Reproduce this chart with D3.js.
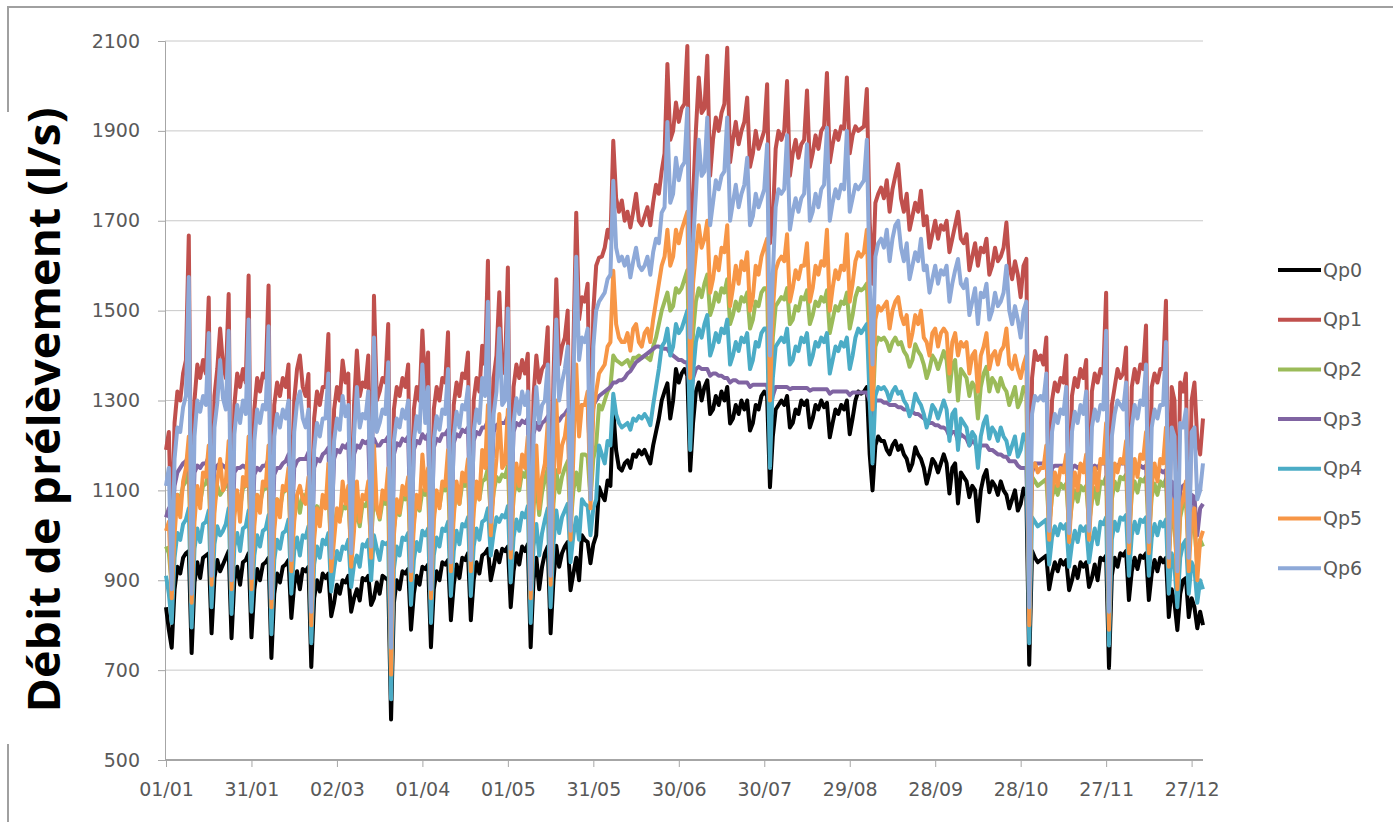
<!DOCTYPE html>
<html><head><meta charset="utf-8">
<script src="https://cdnjs.cloudflare.com/ajax/libs/d3/7.8.5/d3.min.js"></script>
<style>body{margin:0;background:#fff;}svg{display:block;}</style>
</head><body>
<svg id="chart" width="1393" height="822"></svg>
<script>
const tickLabels = ["01/01","31/01","02/03","01/04","01/05","31/05","30/06","30/07","29/08","28/09","28/10","27/11","27/12"];
const yTicks = [500,700,900,1100,1300,1500,1700,1900,2100];
const seriesNames = ["Qp0","Qp1","Qp2","Qp3","Qp4","Qp5","Qp6"];

const qp0 = [840,790,750,880,930,915,950,
960,965,738,895,940,905,950,
955,960,782,905,945,920,935,
950,965,771,900,930,890,940,
945,960,773,880,925,900,935,
940,950,727,870,915,895,930,
935,945,816,890,920,880,925,
920,930,707,860,900,875,915,
905,915,820,850,890,870,900,
895,910,830,860,880,855,905,
900,910,845,860,895,870,910,
905,900,590,850,900,880,920,
915,925,790,870,910,890,930,
925,935,751,880,920,900,940,
935,945,811,890,935,905,950,
945,960,811,900,940,915,955,
960,970,900,930,965,940,970,
965,975,840,920,960,935,975,
965,980,751,900,950,880,930,
960,975,782,900,977,930,960,
975,985,878,915,950,900,1000,
990,985,938,980,1000,1107,1090,
1078,1122,1110,1278,1189,1150,1144,
1160,1167,1150,1180,1175,1189,1180,
1190,1175,1160,1200,1230,1260,1300,
1320,1338,1260,1300,1370,1340,1360,
1370,1355,1144,1250,1320,1340,1300,
1330,1345,1270,1280,1310,1290,1320,
1300,1330,1249,1260,1290,1270,1300,
1280,1300,1233,1250,1290,1280,1310,
1320,1310,1107,1220,1280,1290,1300,
1290,1310,1240,1250,1280,1270,1300,
1290,1300,1240,1260,1290,1280,1300,
1285,1295,1218,1250,1280,1270,1290,
1280,1300,1225,1260,1300,1320,1315,
1320,1330,1180,1100,1200,1220,1210,
1210,1190,1180,1200,1210,1190,1200,
1180,1170,1144,1160,1196,1180,1170,
1150,1115,1140,1170,1160,1140,1160,
1180,1160,1093,1150,1160,1071,1140,
1130,1120,1085,1110,1100,1031,1100,
1130,1145,1096,1120,1110,1090,1120,
1100,1090,1060,1080,1100,1055,1070,
1104,1090,712,965,950,940,945,
950,955,880,915,940,920,945,
935,945,878,900,930,905,940,
930,940,885,905,935,900,950,
945,955,705,910,950,930,960,
955,965,856,920,950,925,955,
950,960,856,915,945,920,950,
940,950,818,880,850,789,870,
900,905,818,860,840,793,830,
800];

const qp1 = [1190,1230,980,1250,1320,1300,1360,
1390,1667,900,1300,1380,1350,1390,
1360,1529,920,1310,1370,1460,1380,
1350,1537,910,1290,1360,1330,1370,
1340,1578,920,1280,1350,1320,1360,
1350,1556,880,1290,1340,1310,1350,
1330,1380,950,1300,1370,1400,1330,
1310,1359,850,1260,1320,1290,1330,
1330,1448,950,1280,1330,1300,1389,
1340,1360,960,1290,1411,1310,1340,
1330,1400,980,1533,1300,1320,1350,
1340,1470,800,1280,1330,1310,1350,
1330,1380,950,1280,1330,1300,1456,
1320,1407,900,1280,1330,1300,1350,
1340,1452,950,1290,1340,1310,1360,
1350,1407,940,1300,1350,1320,1422,
1380,1611,1020,1350,1400,1541,1360,
1370,1596,980,1330,1380,1350,1390,
1360,1404,900,1310,1400,1340,1370,
1380,1463,920,1350,1570,1380,1420,
1440,1500,1000,1420,1718,1480,1530,
1520,1560,1150,1500,1600,1618,1620,
1640,1680,1660,1878,1750,1720,1745,
1700,1720,1685,1720,1760,1700,1690,
1710,1730,1690,1740,1780,1760,1811,
1850,2049,1880,1900,1963,1920,1950,
1960,2089,1600,1750,1900,2019,1940,
1950,2067,1800,1880,1930,1900,1940,
1960,2085,1830,1880,1920,1870,1900,
1920,1974,1820,1850,1900,1860,1880,
1900,2004,1650,1700,1860,1900,1880,
1900,2011,1800,1850,1880,1840,1870,
1880,1990,1820,1850,1890,1860,1900,
1910,2029,1830,1870,1900,1880,1910,
1905,2019,1850,1890,1910,1900,1905,
1910,1993,1700,1560,1740,1760,1774,
1750,1790,1720,1770,1800,1826,1750,
1720,1760,1680,1710,1740,1720,1767,
1690,1710,1640,1670,1700,1660,1690,
1680,1700,1630,1660,1690,1720,1660,
1650,1670,1590,1620,1650,1600,1640,
1630,1660,1580,1600,1640,1610,1620,
1640,1696,1600,1570,1610,1580,1530,
1600,1615,900,1350,1410,1390,1400,
1380,1440,1000,1300,1340,1320,1350,
1340,1400,990,1310,1350,1330,1370,
1350,1390,1000,1320,1360,1340,1370,
1360,1540,900,1290,1330,1370,1350,
1360,1418,960,1330,1370,1340,1380,
1370,1467,950,1330,1360,1340,1370,
1370,1522,950,1330,1300,1000,1340,
1320,1360,950,1300,1340,1210,1180,
1260];

const qp2 = [975,960,890,1040,1090,1080,1110,
1120,1150,880,1060,1105,1075,1110,
1115,1140,920,1070,1110,1090,1100,
1110,1145,905,1065,1095,1060,1105,
1110,1145,910,1045,1090,1070,1100,
1105,1135,865,1035,1080,1060,1095,
1100,1125,950,1055,1085,1050,1090,
1085,1110,840,1025,1065,1040,1080,
1070,1095,955,1015,1055,1035,1065,
1060,1080,965,1025,1050,1020,1070,
1065,1080,985,1090,1060,1035,1075,
1070,1075,720,1015,1065,1045,1085,
1080,1095,930,1035,1075,1055,1100,
1090,1105,890,1045,1085,1065,1105,
1100,1120,950,1055,1100,1070,1115,
1110,1130,950,1065,1105,1080,1120,
1125,1150,1040,1095,1130,1120,1135,
1130,1155,980,1085,1125,1100,1140,
1130,1155,890,1065,1115,1045,1095,
1125,1150,920,1070,1145,1095,1130,
1150,1165,1020,1100,1140,1100,1180,
1180,1175,1080,1170,1200,1290,1280,
1300,1320,1330,1400,1390,1385,1380,
1385,1390,1375,1395,1395,1400,1395,
1400,1395,1390,1420,1440,1470,1500,
1520,1540,1500,1510,1550,1540,1550,
1570,1590,1280,1450,1520,1550,1530,
1560,1580,1490,1510,1540,1520,1550,
1540,1570,1470,1490,1520,1500,1530,
1520,1540,1460,1480,1520,1510,1540,
1550,1550,1240,1440,1510,1520,1530,
1525,1550,1470,1480,1510,1500,1530,
1525,1545,1470,1490,1520,1510,1530,
1520,1545,1450,1480,1510,1500,1520,
1515,1540,1460,1490,1530,1550,1545,
1550,1560,1400,1270,1420,1440,1435,
1440,1430,1410,1430,1440,1425,1430,
1410,1400,1375,1390,1425,1410,1400,
1380,1350,1370,1400,1390,1370,1390,
1410,1390,1320,1380,1390,1300,1370,
1360,1350,1310,1340,1330,1260,1330,
1360,1375,1320,1350,1340,1320,1350,
1330,1320,1290,1310,1330,1285,1300,
1330,1320,850,1130,1120,1110,1115,
1120,1125,1020,1085,1110,1090,1115,
1105,1115,1015,1070,1100,1075,1110,
1100,1110,1025,1075,1105,1070,1120,
1115,1130,840,1080,1120,1100,1130,
1125,1135,995,1090,1120,1095,1125,
1120,1130,995,1085,1115,1090,1120,
1110,1125,955,1050,1020,920,1040,
1070,1080,955,1030,1015,935,990,
975];

const qp3 = [1040,1060,1000,1110,1140,1150,1160,
1165,1180,950,1140,1155,1150,1160,
1160,1175,960,1145,1155,1160,1155,
1150,1170,955,1140,1150,1150,1155,
1150,1170,960,1135,1150,1145,1155,
1155,1170,930,1135,1150,1150,1160,
1165,1180,990,1150,1165,1170,1170,
1170,1185,900,1150,1170,1165,1180,
1185,1195,1000,1170,1190,1185,1200,
1195,1205,1010,1180,1200,1195,1210,
1205,1210,1020,1215,1200,1200,1210,
1210,1220,780,1180,1205,1200,1215,
1210,1220,980,1190,1210,1205,1225,
1215,1225,950,1195,1215,1210,1225,
1225,1235,1000,1205,1225,1220,1235,
1230,1240,1000,1210,1230,1225,1240,
1240,1255,1080,1230,1245,1250,1250,
1250,1265,1030,1230,1250,1245,1255,
1250,1260,950,1225,1250,1235,1250,
1255,1265,970,1240,1265,1255,1265,
1270,1280,1060,1260,1280,1275,1290,
1290,1295,1150,1290,1300,1310,1315,
1320,1325,1330,1340,1340,1345,1345,
1350,1360,1365,1375,1385,1390,1395,
1400,1405,1410,1415,1420,1420,1418,
1415,1415,1405,1400,1395,1390,1390,
1385,1385,1300,1350,1370,1375,1370,
1370,1370,1355,1360,1360,1355,1355,
1350,1350,1340,1345,1345,1340,1340,
1340,1340,1330,1335,1335,1335,1335,
1335,1335,1280,1310,1330,1330,1330,
1330,1330,1325,1328,1328,1328,1328,
1328,1328,1322,1325,1325,1325,1325,
1325,1325,1315,1320,1320,1320,1320,
1320,1320,1312,1318,1318,1318,1318,
1318,1318,1300,1260,1300,1300,1300,
1295,1295,1290,1290,1290,1285,1285,
1280,1280,1275,1275,1270,1270,1265,
1260,1255,1250,1250,1245,1245,1240,
1240,1235,1220,1230,1230,1210,1225,
1220,1215,1200,1210,1205,1185,1200,
1200,1200,1190,1190,1185,1180,1180,
1175,1175,1165,1165,1165,1155,1150,
1150,1150,900,1140,1160,1160,1160,
1160,1165,1060,1150,1155,1155,1155,
1155,1160,1050,1150,1155,1150,1155,
1155,1160,1060,1150,1155,1150,1160,
1160,1170,890,1150,1155,1155,1160,
1160,1165,1030,1150,1155,1150,1155,
1150,1155,1030,1140,1145,1140,1145,
1140,1145,1000,1120,1110,980,1100,
1110,1115,1000,1090,1085,1000,1060,
1070];

const qp4 = [910,870,805,950,1005,990,1025,
1035,1060,795,970,1015,985,1025,
1030,1055,840,980,1020,1000,1010,
1025,1060,825,975,1005,965,1015,
1020,1055,830,955,1000,975,1010,
1015,1045,780,945,990,970,1005,
1010,1035,870,965,995,955,1000,
995,1020,760,935,975,950,990,
980,1005,875,925,965,945,975,
970,990,885,935,955,930,980,
975,990,900,1000,970,945,985,
980,985,635,925,975,955,995,
990,1005,845,945,985,965,1010,
1000,1015,805,955,995,975,1015,
1010,1030,865,965,1010,980,1025,
1020,1040,865,975,1015,990,1030,
1035,1060,955,1005,1040,1030,1045,
1040,1065,895,995,1035,1010,1050,
1040,1065,805,975,1025,955,1005,
1035,1060,840,980,1055,1005,1040,
1055,1070,940,1000,1040,990,1080,
1070,1065,1000,1060,1080,1200,1180,
1160,1210,1200,1315,1270,1250,1240,
1245,1250,1235,1260,1255,1265,1260,
1270,1260,1245,1290,1330,1370,1420,
1430,1460,1400,1420,1470,1450,1460,
1480,1500,1190,1360,1430,1460,1440,
1470,1490,1400,1420,1450,1430,1460,
1450,1480,1380,1400,1430,1410,1440,
1430,1450,1370,1390,1430,1420,1450,
1460,1460,1150,1350,1420,1430,1440,
1430,1460,1380,1390,1420,1410,1440,
1430,1450,1380,1400,1430,1420,1440,
1430,1450,1360,1390,1420,1410,1430,
1420,1440,1370,1400,1440,1460,1450,
1460,1470,1300,1160,1310,1330,1325,
1330,1320,1300,1320,1330,1315,1320,
1300,1290,1265,1280,1315,1300,1290,
1270,1240,1260,1290,1280,1260,1280,
1300,1280,1210,1270,1280,1190,1260,
1250,1240,1200,1230,1220,1150,1220,
1250,1265,1215,1240,1230,1210,1240,
1220,1210,1180,1200,1220,1175,1190,
1225,1210,760,1040,1030,1020,1025,
1030,1035,935,995,1020,1000,1025,
1015,1025,930,980,1010,985,1020,
1010,1020,940,985,1015,980,1030,
1025,1040,755,990,1030,1010,1040,
1035,1045,910,1000,1030,1005,1035,
1030,1040,910,995,1025,1000,1030,
1020,1035,870,960,930,840,950,
980,990,870,940,925,850,900,
880];

const qp5 = [1010,1030,860,1000,1090,1040,1120,
1150,1220,850,1030,1110,1060,1140,
1130,1200,890,1050,1120,1170,1100,
1120,1210,880,1040,1100,1030,1130,
1110,1220,880,1020,1090,1050,1120,
1110,1200,840,1010,1080,1040,1110,
1100,1150,920,1030,1090,1110,1080,
1070,1130,800,990,1060,1020,1090,
1060,1160,920,990,1060,1030,1120,
1070,1110,930,1010,1120,1030,1090,
1080,1120,950,1200,1060,1040,1100,
1080,1150,690,1000,1080,1050,1110,
1090,1130,900,1020,1090,1060,1180,
1100,1150,860,1030,1100,1060,1120,
1110,1190,920,1040,1120,1070,1140,
1120,1170,920,1050,1120,1080,1190,
1150,1290,1000,1100,1170,1270,1150,
1160,1280,950,1090,1160,1110,1180,
1150,1220,860,1060,1200,1060,1130,
1160,1250,890,1100,1300,1140,1200,
1220,1270,990,1180,1380,1220,1290,
1290,1320,1060,1280,1320,1360,1370,
1380,1420,1430,1589,1470,1440,1430,
1430,1450,1411,1460,1470,1430,1420,
1450,1460,1430,1480,1520,1560,1600,
1620,1680,1600,1620,1680,1650,1680,
1700,1720,1350,1560,1630,1690,1640,
1660,1700,1540,1570,1620,1590,1640,
1630,1690,1510,1550,1600,1560,1610,
1590,1630,1500,1530,1600,1580,1620,
1640,1660,1300,1500,1590,1610,1620,
1610,1670,1520,1550,1590,1570,1600,
1600,1650,1520,1550,1600,1580,1610,
1600,1680,1500,1550,1590,1570,1600,
1590,1670,1520,1560,1610,1630,1620,
1630,1680,1450,1280,1480,1510,1500,
1510,1520,1460,1500,1520,1530,1490,
1470,1490,1420,1450,1490,1470,1500,
1440,1430,1400,1450,1460,1420,1450,
1460,1450,1360,1430,1450,1400,1430,
1420,1430,1360,1400,1410,1320,1400,
1420,1450,1370,1400,1410,1380,1410,
1420,1460,1380,1370,1400,1370,1350,
1380,1400,800,1150,1160,1140,1150,
1150,1200,990,1100,1140,1110,1150,
1140,1180,985,1090,1140,1100,1160,
1140,1180,990,1100,1150,1100,1170,
1160,1250,790,1100,1160,1140,1170,
1160,1210,960,1110,1170,1130,1180,
1170,1230,960,1110,1160,1120,1170,
1160,1240,930,1080,1050,880,1060,
1080,1120,920,1040,1060,900,990,
1010];

const qp6 = [1110,1150,880,1170,1240,1230,1285,
1310,1575,870,1220,1300,1275,1310,
1290,1450,910,1240,1295,1390,1305,
1280,1455,900,1225,1290,1250,1300,
1270,1480,905,1210,1280,1250,1290,
1280,1465,860,1220,1270,1240,1280,
1260,1300,945,1230,1295,1320,1260,
1240,1280,830,1190,1250,1220,1260,
1260,1360,950,1210,1260,1235,1310,
1265,1290,960,1220,1330,1240,1270,
1260,1320,975,1440,1230,1250,1280,
1270,1385,750,1210,1260,1240,1280,
1260,1300,920,1210,1265,1230,1380,
1250,1330,880,1210,1265,1235,1280,
1270,1370,940,1220,1275,1240,1290,
1280,1330,945,1230,1280,1250,1350,
1310,1520,1030,1270,1320,1460,1290,
1300,1505,970,1250,1305,1270,1320,
1290,1320,880,1230,1330,1250,1290,
1300,1380,910,1270,1480,1300,1340,
1370,1420,1010,1340,1620,1390,1440,
1430,1460,1080,1420,1500,1520,1530,
1540,1570,1580,1789,1640,1610,1620,
1600,1620,1574,1610,1640,1600,1590,
1600,1620,1580,1630,1660,1650,1718,
1730,1920,1740,1760,1840,1790,1820,
1830,1950,1440,1650,1760,1880,1800,
1810,1930,1690,1740,1790,1770,1800,
1810,1930,1700,1740,1780,1730,1760,
1780,1840,1690,1710,1760,1730,1750,
1770,1870,1400,1580,1730,1770,1760,
1770,1890,1680,1720,1750,1720,1750,
1760,1870,1700,1720,1760,1730,1770,
1780,1907,1700,1740,1770,1750,1780,
1770,1900,1720,1750,1780,1770,1780,
1790,1880,1560,1380,1620,1650,1660,
1640,1680,1610,1660,1690,1700,1640,
1610,1650,1570,1600,1630,1610,1660,
1590,1600,1540,1570,1600,1560,1590,
1580,1600,1520,1560,1590,1615,1560,
1550,1570,1490,1520,1550,1470,1540,
1530,1560,1480,1500,1540,1510,1520,
1540,1600,1500,1470,1510,1480,1440,
1500,1520,840,1270,1310,1300,1310,
1300,1360,1010,1230,1270,1250,1280,
1270,1330,1005,1230,1275,1250,1290,
1270,1320,1010,1240,1280,1255,1290,
1280,1455,830,1220,1270,1300,1290,
1280,1340,985,1240,1290,1260,1300,
1290,1380,985,1240,1280,1260,1290,
1290,1430,950,1240,1220,920,1250,
1240,1280,950,1230,1240,1080,1100,
1160];

const seriesValues = [qp0, qp1, qp2, qp3, qp4, qp5, qp6];
const seriesColors = ["#000000","#C0504D","#9BBB59","#8064A2","#4BACC6","#F79646","#8EA9D8"];

const svg = d3.select("#chart");
const x = d3.scaleLinear().domain([0, 364]).range([166, 1203]);
const y = d3.scaleLinear().domain([500, 2100]).range([760, 41]);
const axisColor = "#a6a6a6", textColor = "#595959";

// outer chart border
svg.append("rect").attr("x", 8).attr("y", 7).attr("width", 1400).attr("height", 830)
  .attr("fill", "none").attr("stroke", "#a0a0a0").attr("stroke-width", 2);

// gridlines
svg.append("g").selectAll("line").data(yTicks.filter(v => v > 500)).join("line")
  .attr("x1", 165).attr("x2", 1203)
  .attr("y1", d => y(d)).attr("y2", d => y(d))
  .attr("stroke", "#c8c8c8").attr("stroke-width", 1);

// y axis
const yAxis = svg.append("g").attr("transform", "translate(165,0)")
  .call(d3.axisLeft(y).tickValues(yTicks).tickSize(7).tickPadding(18).tickFormat(d3.format("d")));
yAxis.select(".domain").attr("stroke", axisColor);
yAxis.selectAll(".tick line").attr("stroke", axisColor);
yAxis.selectAll("text").attr("fill", textColor).style("font-family", "'DejaVu Sans', sans-serif").style("font-size", "19px");

// x axis
const xTickVals = tickLabels.map((_, i) => i * 30);
const xAxis = svg.append("g").attr("transform", "translate(0,760)")
  .call(d3.axisBottom(x).tickValues(xTickVals).tickSize(7).tickPadding(16).tickFormat((d, i) => tickLabels[i]));
xAxis.select(".domain").attr("stroke", axisColor).attr("stroke-width", 2).attr("d", "M165,0H1203");
xAxis.selectAll(".tick line").attr("stroke", axisColor);
xAxis.selectAll("text").attr("fill", textColor).style("font-family", "'DejaVu Sans', sans-serif").style("font-size", "19px");

// series
const line = d3.line().x((d, i) => x(i)).y(d => y(d));
svg.append("g").selectAll("path").data(seriesValues).join("path")
  .attr("d", d => line(d))
  .attr("fill", "none")
  .attr("stroke", (d, i) => seriesColors[i])
  .attr("stroke-width", 4)
  .attr("stroke-linejoin", "round");

// legend
const leg = svg.append("g").selectAll("g").data(seriesNames).join("g")
  .attr("transform", (d, i) => `translate(1278,${270 + i * 49.7})`);
leg.append("line").attr("x1", 0).attr("x2", 43).attr("y1", 0).attr("y2", 0)
  .attr("stroke", (d, i) => seriesColors[i]).attr("stroke-width", 4);
leg.append("text").attr("x", 45).attr("y", 0).attr("dy", "0.35em").text(d => d)
  .attr("fill", textColor).style("font-family", "'DejaVu Sans', sans-serif").style("font-size", "19px");

// y title with white backing over the border
svg.append("rect").attr("x", 0).attr("y", 112).attr("width", 78).attr("height", 632).attr("fill", "#fff");
svg.append("text")
  .attr("transform", "translate(60,410) rotate(-90)")
  .attr("text-anchor", "middle")
  .attr("textLength", 605).attr("lengthAdjust", "spacingAndGlyphs")
  .style("font-family", "'Open Sans', sans-serif").style("font-weight", "bold").style("font-size", "44px")
  .attr("fill", "#000")
  .text("Débit de prélèvement (l/s)");
</script>
</body></html>
